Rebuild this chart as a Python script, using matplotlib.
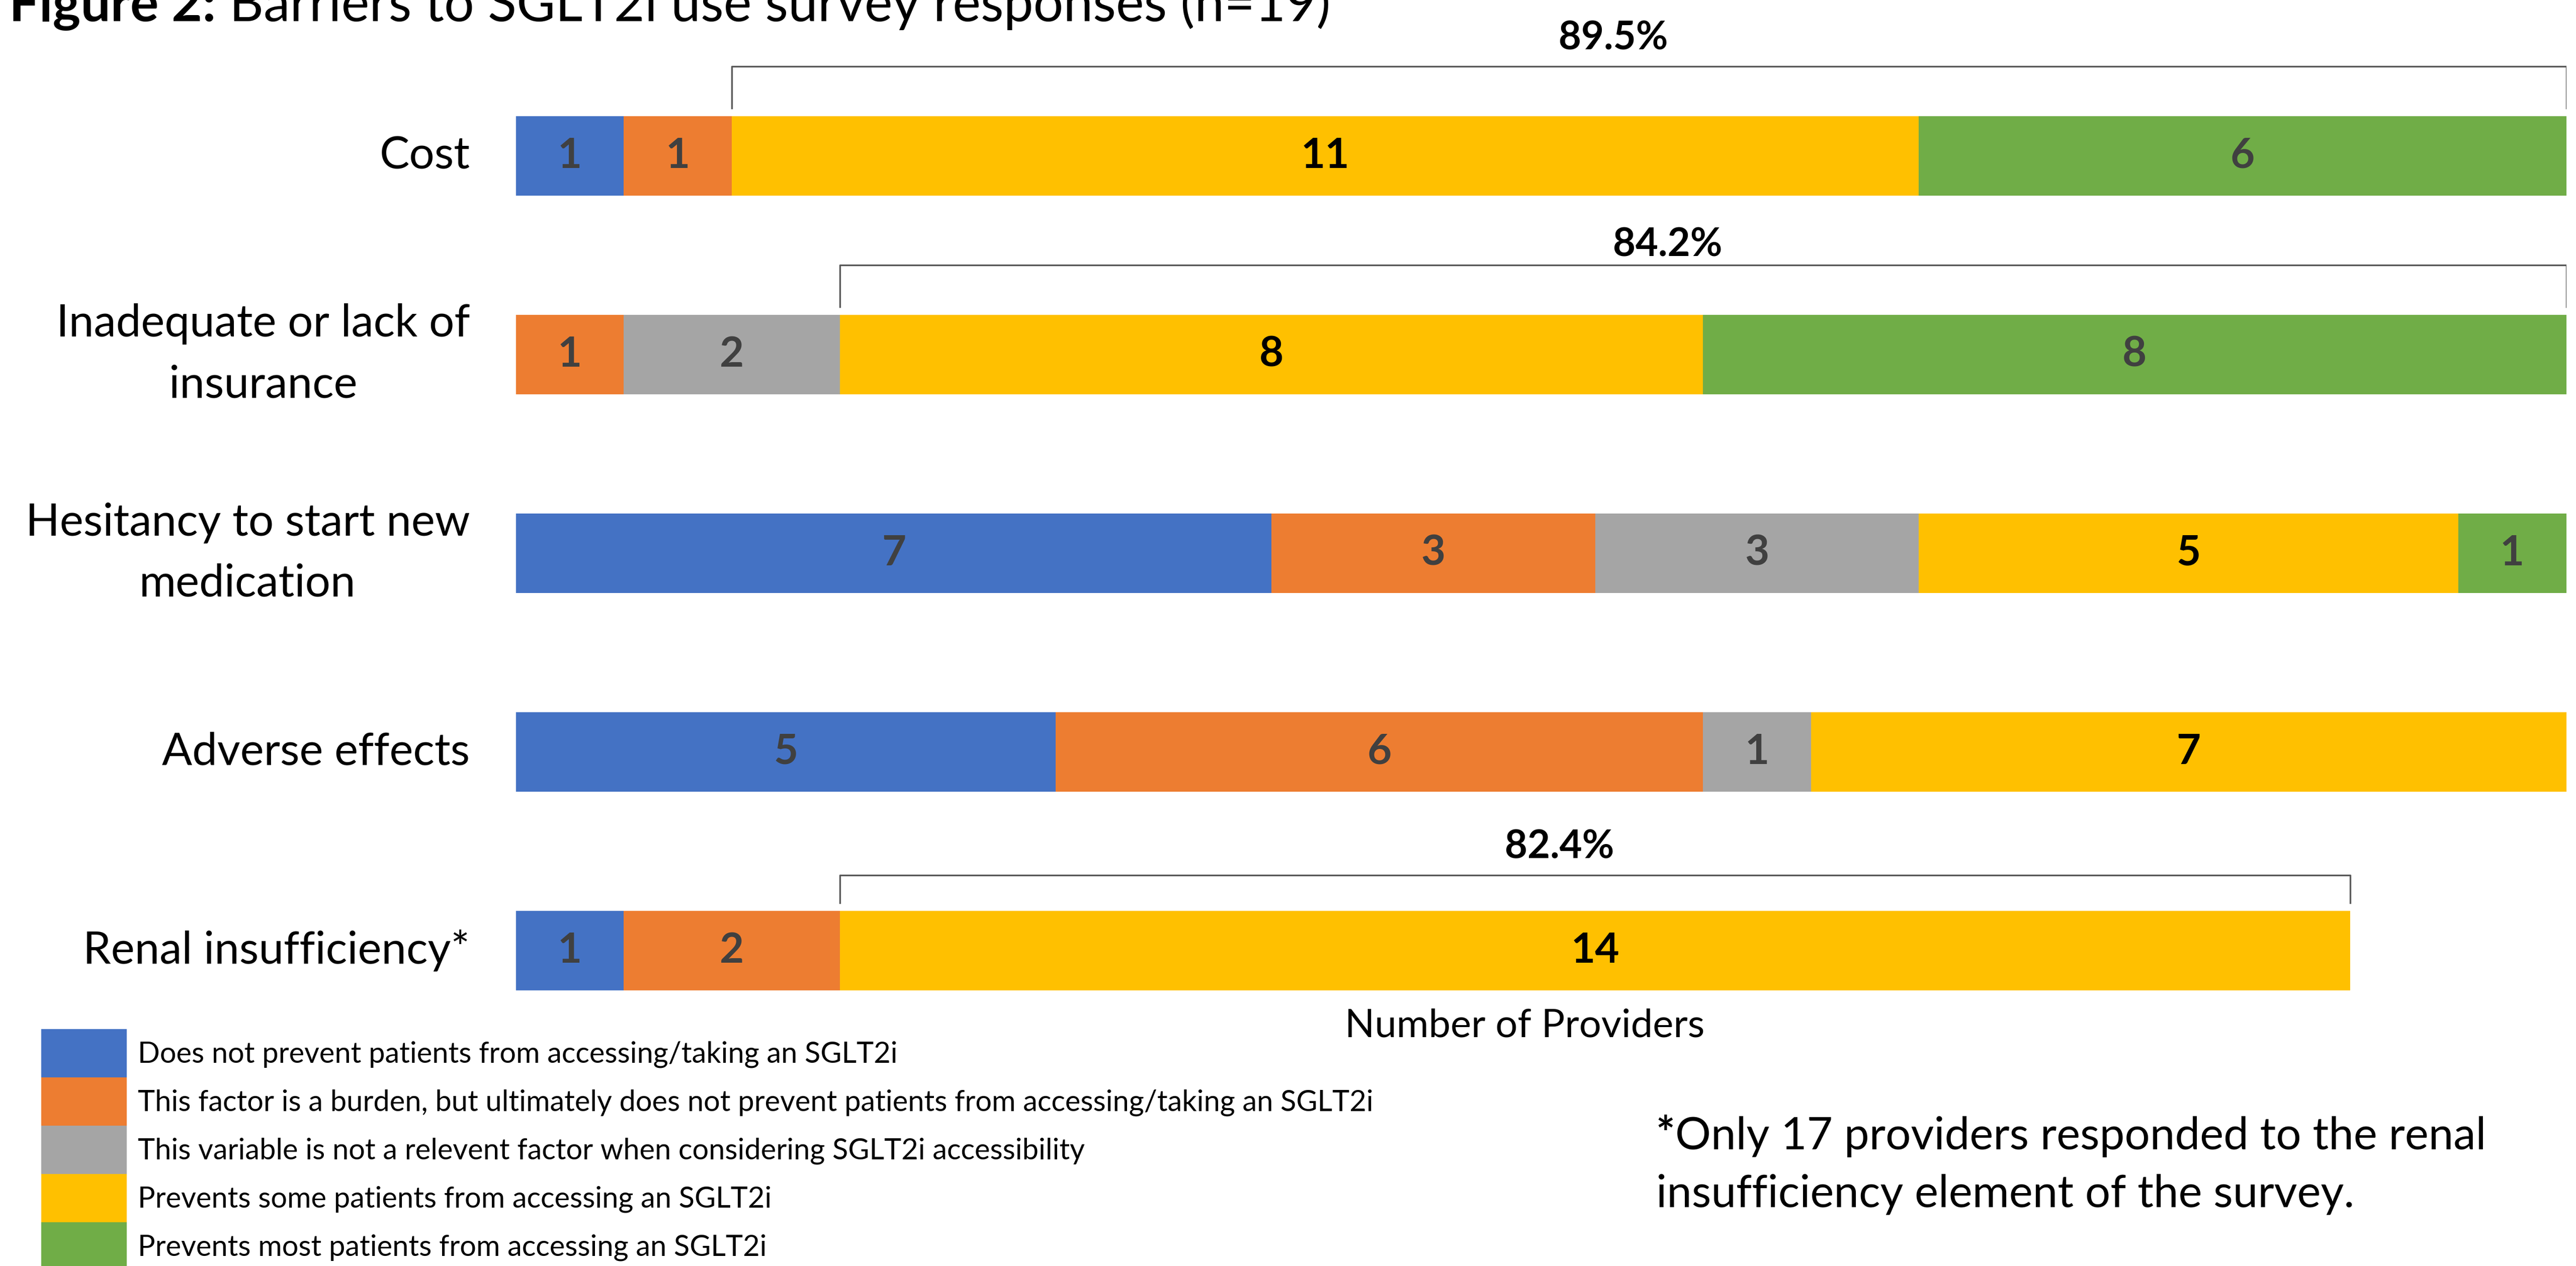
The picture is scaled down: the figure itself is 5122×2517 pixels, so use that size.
import numpy as np
import matplotlib
matplotlib.use('Agg')
import matplotlib.pyplot as plt

plt.rcParams['font.family'] = ['Lato', 'DejaVu Sans']

categories = ["Cost", "Inadequate or lack of\ninsurance", "Hesitancy to start new\nmedication",
              "Adverse effects", "Renal insufficiency*"]
no_prevent = [1, 0, 7, 5, 1]
burden = [1, 1, 3, 6, 2]
not_relevant = [0, 2, 3, 1, 0]
prevents_some = [11, 8, 5, 7, 14]
prevents_most = [6, 8, 1, 0, 0]

series_names = ["Does not prevent patients from accessing/taking an SGLT2i",
                "This factor is a burden, but ultimately does not prevent patients from accessing/taking an SGLT2i",
                "This variable is not a relevent factor when considering SGLT2i accessibility",
                "Prevents some patients from accessing an SGLT2i",
                "Prevents most patients from accessing an SGLT2i"]
colors = ["#4472C4", "#ED7D31", "#A5A5A5", "#FFC000", "#70AD47"]
label_colors = ["#404040", "#404040", "#404040", "black", "#404040"]

# rows that get a "prevents" bracket
bracket_rows = [0, 1, 4]

fig = plt.figure(figsize=(25.61, 12.585), dpi=200)
ax = fig.add_axes([0.2003, 0.1706, 0.7959, 0.7847])

series = [no_prevent, burden, not_relevant, prevents_some, prevents_most]
y = np.arange(len(categories))
left = np.zeros(len(categories))
starts = []
for vals, name, c, tc in zip(series, series_names, colors, label_colors):
    vals = np.array(vals, dtype=float)
    starts.append(left.copy())
    ax.barh(y, vals, left=left, height=0.4, color=c, label=name, linewidth=0)
    for i, v in enumerate(vals):
        if v > 0:
            ax.text(left[i] + v / 2, y[i], f"{int(v)}", ha='center', va='center',
                    fontsize=30, fontweight='bold', color=tc)
    left += vals
totals = left

# brackets over "prevents some/most"
line_off = [0.45, 0.45, 0.38]
text_off = [0.59, 0.55, 0.52]
for k, r in enumerate(bracket_rows):
    x0 = starts[3][r]
    x1 = totals[r]
    pct = (prevents_some[r] + prevents_most[r]) / totals[r] * 100
    yl = y[r] - line_off[k]
    yt = y[r] - 0.24
    ax.plot([x0, x0, x1, x1], [yt, yl, yl, yt], color='#595959', lw=1.2)
    ax.text((x0 + x1) / 2 - 0.33, y[r] - text_off[k], f"{pct:.1f}%", ha='center', va='center',
            fontsize=28, fontweight='bold', color='black')

ax.set_xlim(0, 19)
ax.set_ylim(4.5, -0.5)
ax.set_yticks(y)
ax.set_yticklabels(categories, fontsize=32, multialignment='center', linespacing=1.6, va='center')
ax.tick_params(axis='y', length=0, pad=33)
ax.set_xticks([])
for s in ax.spines.values():
    s.set_visible(False)
ax.set_xlabel("Number of Providers", fontsize=28)
ax.xaxis.set_label_coords(0.492, 0.024)
ax.xaxis.label.set_va('center')

handles, labels = ax.get_legend_handles_labels()
fig.legend(handles, labels, loc='upper left', bbox_to_anchor=(82 / 5122, 1 - 2046 / 2517),
           frameon=False, fontsize=20.8, handlelength=2.94, handleheight=2.18,
           labelspacing=0, handletextpad=0.38, borderpad=0, borderaxespad=0)

r = fig.canvas.get_renderer()

# title, cut at the top as in the original
t = fig.text(0.0035, 0.9833, "Figure 2:", fontsize=38, fontweight='bold', va='baseline')
bb = t.get_window_extent(renderer=r)
fig.text(bb.x1 / fig.bbox.width, 0.9833, " Barriers to SGLT2i use survey responses (n=19)",
         fontsize=38, va='baseline')

# footnote
s = fig.text(0.6429, 0.0922, "*", fontsize=32, fontweight='bold', va='baseline')
bb = s.get_window_extent(renderer=r)
fig.text(bb.x1 / fig.bbox.width, 0.0922, "Only 17 providers responded to the renal",
         fontsize=32, va='baseline')
fig.text(0.6429, 0.0465, "insufficiency element of the survey.", fontsize=32, va='baseline')

fig.savefig("out.png", dpi=200)
